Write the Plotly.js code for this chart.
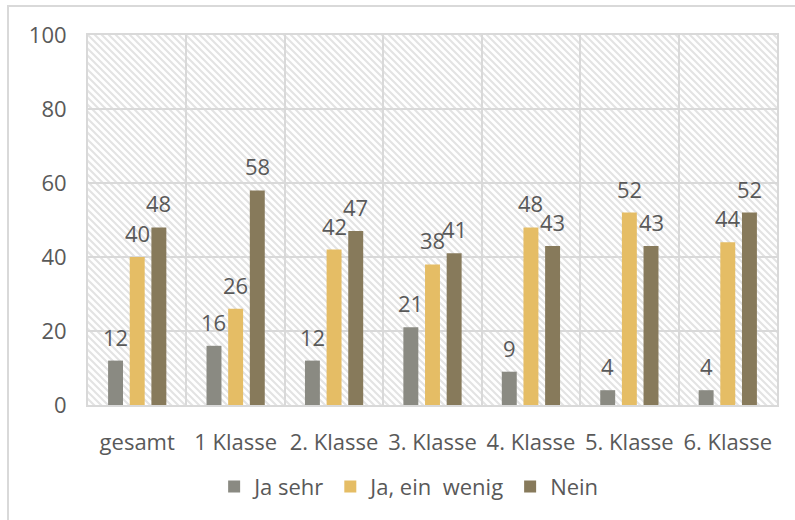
<!DOCTYPE html>
<html>
<head>
<meta charset="utf-8">
<script src="https://cdn.plot.ly/plotly-3.0.1.min.js"></script>
<style>
  html, body { margin: 0; padding: 0; background: #ffffff; }
  #wrap { position: relative; width: 795px; height: 520px; overflow: hidden; }
  #chart { position: absolute; left: 0; top: 0; width: 795px; height: 520px; }
  #frame { position: absolute; left: 7px; top: 5px; width: 820px; height: 540px;
           border-left: 2px solid #d9d9d9; border-top: 2px solid #d9d9d9; pointer-events: none; }
</style>
</head>
<body>
<div id="wrap">
  <div id="chart"></div>
  <div id="frame"></div>
</div>
<script>
// ---- data ----
const categories = ["gesamt", "1 Klasse", "2. Klasse", "3. Klasse", "4. Klasse", "5. Klasse", "6. Klasse"];
const seriesNames = ["Ja sehr", "Ja, ein\u00a0 wenig", "Nein"];
const jaSehr   = [12, 16, 12, 21, 9, 4, 4];
const jaWenig  = [40, 26, 42, 38, 48, 52, 44];
const nein     = [48, 58, 47, 41, 43, 43, 52];
const yTicks   = [0, 20, 40, 60, 80, 100];

// ---- styles ----
const colors = ["#8a8a82", "#e5bd65", "#877a5b"];
const textColor = "#595959";
const gridColor = "#d9d9d9";
const fontFamily = "'Open Sans', 'Liberation Sans', sans-serif";
const fontSize = 22;

const W = 795, H = 520;
const margin = { l: 88, r: 18, t: 35, b: 115 };
const bargap = 0.34, bargroupgap = 0.31;

const allSeries = [jaSehr, jaWenig, nein];

const traces = allSeries.map((vals, s) => ({
  type: "bar",
  name: seriesNames[s],
  x: categories,
  y: vals,
  marker: { color: colors[s], line: { width: 0 } },
  hoverinfo: "x+y+name"
}));

// hatched background pattern (style only)
const plotW = W - margin.l - margin.r;
const plotH = H - margin.t - margin.b;
const P = 7;
const hatchSvg =
  `<svg xmlns="http://www.w3.org/2000/svg" width="${plotW}" height="${plotH}">` +
  `<defs><pattern id="p" width="${P}" height="${P}" patternUnits="userSpaceOnUse">` +
  `<rect width="${P}" height="${P}" fill="#ffffff"/>` +
  `<path d="M-1,-1 L${P+1},${P+1} M-1,${P-1} L1,${P+1} M${P-1},-1 L${P+1},1" stroke="#e3e3e3" stroke-width="2"/>` +
  `</pattern></defs><rect width="${plotW}" height="${plotH}" fill="url(#p)"/></svg>`;
const hatchUri = "data:image/svg+xml;base64," + btoa(hatchSvg);

// data labels from the series arrays
const catW = plotW / categories.length;
const slot = catW * (1 - bargap) / allSeries.length;
const annotations = [];
allSeries.forEach((vals, s) => {
  vals.forEach((v, i) => {
    annotations.push({
      x: categories[i], y: v, xref: "x", yref: "y",
      xshift: (s - (allSeries.length - 1) / 2) * slot,
      yshift: 24, yanchor: "middle", xanchor: "center",
      text: String(v), showarrow: false,
      font: { family: fontFamily, size: fontSize, color: textColor }
    });
  });
});

const layout = {
  width: W, height: H,
  margin: margin,
  paper_bgcolor: "rgba(0,0,0,0)",
  plot_bgcolor: "#ffffff",
  barmode: "group",
  bargap: bargap,
  bargroupgap: bargroupgap,
  font: { family: fontFamily, size: fontSize, color: textColor },
  showlegend: true,
  legend: {
    orientation: "h",
    xref: "container", yref: "container",
    x: 0.514, xanchor: "center",
    y: 0.064, yanchor: "middle",
    font: { family: fontFamily, size: fontSize, color: textColor },
    itemwidth: 30,
    traceorder: "normal",
    bgcolor: "rgba(0,0,0,0)"
  },
  xaxis: {
    type: "category",
    tickson: "boundaries",
    showgrid: true, gridcolor: gridColor, gridwidth: 2,
    showline: true, linecolor: gridColor, linewidth: 2, mirror: true,
    ticks: "", ticklabelstandoff: 17,
    tickfont: { family: fontFamily, size: fontSize, color: textColor },
    fixedrange: true
  },
  yaxis: {
    range: [0, 100],
    tickvals: yTicks,
    ticktext: yTicks.map(String),
    showgrid: true, gridcolor: gridColor, gridwidth: 2,
    zeroline: false,
    showline: true, linecolor: gridColor, linewidth: 2, mirror: true,
    ticks: "", ticklabelstandoff: 15,
    tickfont: { family: fontFamily, size: fontSize, color: textColor },
    fixedrange: true
  },
  images: [{
    source: hatchUri, xref: "paper", yref: "paper",
    x: 0, y: 1, sizex: 1, sizey: 1, xanchor: "left", yanchor: "top",
    sizing: "stretch", layer: "below"
  }],
  annotations: annotations
};

Plotly.newPlot("chart", traces, layout, { displayModeBar: false, staticPlot: true });
</script>
</body>
</html>
